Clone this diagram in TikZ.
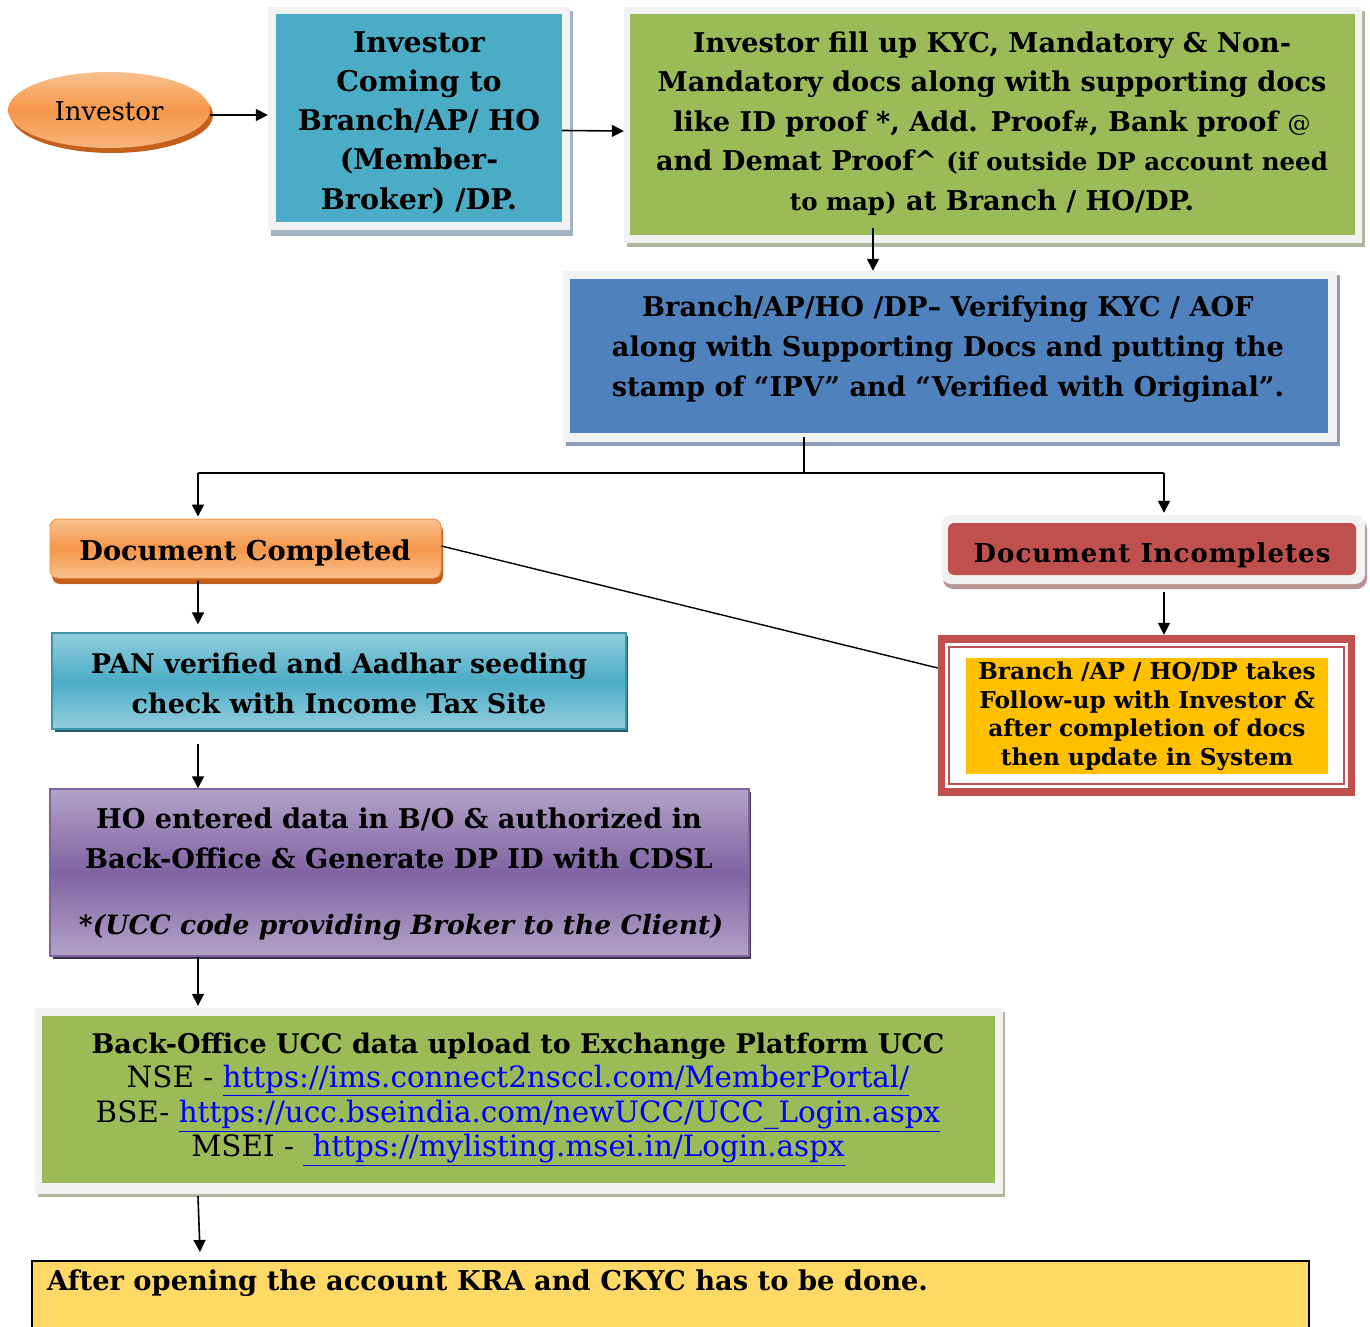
\documentclass[tikz,border=0pt]{standalone}
\usepackage{fontspec}
\setmainfont{DejaVu Serif}
\usetikzlibrary{arrows.meta,shapes.geometric}
\definecolor{cblue}{HTML}{4BACC6}
\definecolor{cgreen}{HTML}{9BBB59}
\definecolor{cdblue}{HTML}{4F81BD}
\definecolor{cred}{HTML}{C0504D}
\definecolor{cyel}{HTML}{FFC000}
\definecolor{cpale}{HTML}{FFD966}
\definecolor{cframe}{HTML}{F2F2F2}
\definecolor{orL}{HTML}{F9C18F}
\definecolor{orM}{HTML}{F5974A}
\definecolor{orD}{HTML}{C5601C}
\definecolor{purL}{HTML}{B3A2C7}
\definecolor{purM}{HTML}{8064A2}
\definecolor{purD}{HTML}{3F3151}
\definecolor{cyL}{HTML}{93CDDD}
\definecolor{cyD}{HTML}{215968}
\definecolor{shB}{HTML}{A0B4C2}
\definecolor{shG}{HTML}{AEB89A}
\definecolor{shD}{HTML}{8E9DB3}
\definecolor{shR}{HTML}{B89494}
\definecolor{lnk}{HTML}{0000FF}
\tikzset{
  arr/.style={-{Triangle[length=12pt,width=12pt]}, line width=1.6pt},
  ln/.style={line width=1.4pt},
  frm/.style={rectangle, fill=cframe, inner sep=0},
  plain/.style={rectangle, inner sep=0},
  txt/.style={align=center, inner sep=0, font=\bfseries\fontsize{27}{39.5}\selectfont},
}
\begin{document}
\begin{tikzpicture}[x=1pt,y=-1pt]
\useasboundingbox (0,0) rectangle (1370,1327);
\fill[white] (0,0) rectangle (1370,1327);

% Investor ellipse
\fill[orD] (112,115) ellipse [x radius=101, y radius=38];
\node[ellipse, minimum width=202, minimum height=76, inner sep=0,
  top color=orL, bottom color=orL!70!orM, middle color=orM] (inv) at (109,110) {};
\node[txt, font=\fontsize{26}{30}\selectfont] at (109,111) {Investor};

% Box 2
\fill[shB] (271,11) rectangle (573,236);
\node[frm, minimum width=302, minimum height=223] (f2) at (419,118.5) {};
\node[plain, fill=cblue, minimum width=286, minimum height=208] (b2) at (419,118) {};
\node[txt, font=\bfseries\fontsize{28.5}{39.3}\selectfont] at (419,122.5) {Investor\\Coming to\\Branch/AP/ HO\\(Member-\\Broker) /DP.};

% Box 3
\fill[shG] (627,11) rectangle (1365,247);
\node[frm, minimum width=738, minimum height=236] (f3) at (993,125) {};
\node[plain, fill=cgreen, minimum width=725, minimum height=221] (b3) at (992.5,124.5) {};
\node[txt, font=\bfseries\fontsize{27.2}{39.5}\selectfont] at (992,123.5) {Investor fill up KYC, Mandatory \& Non-\\Mandatory docs along with supporting docs\\like ID proof *, Add. Proof{\fontsize{19}{20}\selectfont\#}, Bank proof {\mdseries\fontsize{23}{20}\selectfont @}\\and Demat Proof\^{} {\fontsize{24.5}{20}\selectfont(if outside DP account need}\\{\fontsize{24.5}{20}\selectfont to map)} at Branch / HO/DP.};

% Box 4
\fill[shD] (566,275) rectangle (1340,446);
\node[frm, minimum width=774, minimum height=171] (f4) at (950,356.5) {};
\node[plain, fill=cdblue, minimum width=758, minimum height=154] (b4) at (949,356) {};
\node[txt, font=\bfseries\fontsize{27.2}{40}\selectfont] at (948,349) {Branch/AP/HO /DP– Verifying KYC / AOF\\along with Supporting Docs and putting the\\stamp of “IPV” and “Verified with Original”.};

% Document Completed
\fill[orD, rounded corners=8] (52,523) rectangle (443,584);
\node[rectangle, rounded corners=8, draw=orM, line width=1pt, minimum width=391, minimum height=59,
  top color=orL, bottom color=orL, middle color=orM] (dc) at (245.5,548.5) {};
\node[txt, font=\bfseries\fontsize{27.3}{30}\selectfont] at (245,553) {Document Completed};

% Document Incompletes
\fill[shR, rounded corners=10] (943,519) rectangle (1367,589);
\node[rectangle, rounded corners=10, fill=cframe, minimum width=424, minimum height=69] (diF) at (1153,549.5) {};
\node[rectangle, rounded corners=6, fill=cred, minimum width=408, minimum height=52] (di) at (1152,549) {};
\node[txt, font=\bfseries\addfontfeatures{LetterSpace=4}\fontsize{26}{30}\selectfont] at (1152,555) {Document Incompletes};

% Follow-up box
\node[rectangle, fill=cred, minimum width=417, minimum height=161, inner sep=0] (fu) at (1146.5,715.5) {};
\fill[white] (945,643) rectangle (1348,788);
\draw[cred, line width=2.5pt] (949,647) rectangle (1344,784);
\node[plain, fill=cyel, minimum width=362, minimum height=116] (fuy) at (1147,715.5) {};
\node[txt, font=\bfseries\fontsize{23.2}{28.5}\selectfont] at (1147,716.5) {Branch /AP / HO/DP takes\\Follow-up with Investor \&\\after completion of docs\\then update in System};

% PAN box
\fill[cyD] (55,636) rectangle (628,732);
\node[rectangle, draw=cblue!85!black, line width=1.2pt, minimum width=574, minimum height=96,
  top color=cyL, bottom color=cyL, middle color=cblue] (pan) at (339,681) {};
\node[txt, font=\bfseries\fontsize{27}{40}\selectfont] at (339,683) {PAN verified and Aadhar seeding\\check with Income Tax Site};

% Purple box
\fill[purD] (53,792) rectangle (751,959);
\node[rectangle, draw=purM, line width=1.5pt, minimum width=699, minimum height=167,
  top color=purL, bottom color=purL, middle color=purM] (pu) at (399.5,872.5) {};
\node[txt, font=\bfseries\fontsize{27.2}{40}\selectfont] at (399,838) {HO entered data in B/O \& authorized in\\Back-Office \& Generate DP ID with CDSL};
\node[txt, font=\bfseries\itshape\fontsize{26.6}{30}\selectfont] at (401,927) {*(UCC code providing Broker to the Client)};

% Green box 2
\fill[shG] (38,1012) rectangle (1005,1197);
\node[frm, minimum width=968, minimum height=186] (f5) at (519,1101) {};
\node[plain, fill=cgreen, minimum width=953, minimum height=167] (g2) at (518.5,1099.5) {};
\node[txt, font=\bfseries\fontsize{27}{30}\selectfont] at (518,1046) {Back-Office UCC data upload to Exchange Platform UCC};
\node[txt, font=\mdseries\fontsize{29.4}{34.5}\selectfont] at (518,1115.5) {NSE - \textcolor{lnk}{\underline{https://ims.connect2nsccl.com/MemberPortal/}}\\BSE- \textcolor{lnk}{\underline{https://ucc.bseindia.com/newUCC/UCC\_Login.aspx}}\\MSEI - \textcolor{lnk}{\underline{\ https://mylisting.msei.in/Login.aspx}}};

% Final box
\node[rectangle, draw=black, line width=2pt, fill=cpale, minimum width=1277, minimum height=90, inner sep=0] (fin) at (670.5,1306) {};
\node[txt, anchor=west, font=\bfseries\fontsize{27.3}{30}\selectfont] at (47,1283) {After opening the account KRA and CKYC has to be done.};

% Connectors
\coordinate (c34) at (873,0);
\coordinate (j) at (804,473);
\coordinate (jl) at (198,473);
\coordinate (jr) at (1164,473);
\draw[arr] ([yshift=-5pt]inv.east) -- ([yshift=3.5pt]f2.west);
\draw[arr] ([yshift=-12.5pt]b2.east) -- ([yshift=-6pt]f3.west);
\draw[arr] ([yshift=7pt]c34 |- b3.south) -- (c34 |- f4.north);
\draw[ln] ([yshift=-4pt]j |- b4.south) -- (j);
\draw[ln] (jl) -- (jr);
\draw[arr] (jl) -- ([yshift=2pt]jl |- dc.north);
\draw[arr] (jr) -- ([yshift=2pt]jr |- diF.north);
\draw[ln] ([yshift=2.5pt]dc.east) -- ([yshift=47.5pt]fu.west);
\draw[arr] ([yshift=-8pt]jr |- diF.south) -- (jr |- fu.north);
\draw[arr] ([yshift=-2pt]jl |- dc.south) -- ([yshift=8pt]jl |- pan.north);
\draw[arr] ([yshift=-14pt]jl |- pan.south) -- (jl |- pu.north);
\draw[arr] (jl |- pu.south) -- ([yshift=2pt]jl |- f5.north);
\draw[arr] ([yshift=-2pt]jl |- f5.south) -- ([yshift=8pt,xshift=2pt]jl |- fin.north);
\end{tikzpicture}
\end{document}
